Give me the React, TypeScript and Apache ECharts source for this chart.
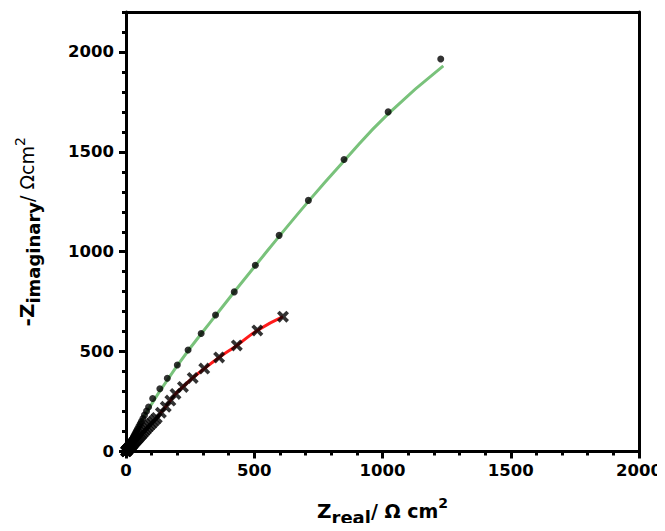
import React, { useEffect, useRef } from "react";
import * as echarts from "echarts";

// Series 1: dots with green fitted line
const greenX = [0.5, 1, 1.5, 2, 2.5, 3, 3.5, 4, 5, 6, 7, 8, 9, 10, 11.5, 13, 15, 17, 19, 21, 23, 25.5, 28, 31, 34, 37.5, 41, 45, 50, 55, 60, 66, 72, 80, 88, 104, 132, 161, 200, 242, 293, 349, 422, 504, 597, 711, 850, 1022, 1227];
const greenY = [1, 2.5, 4, 5, 6, 7, 8.5, 10, 12, 14, 17, 20, 22, 25, 28, 32, 37, 42, 47, 52, 57, 63, 70, 77, 85, 94, 103, 113, 125, 137, 150, 165, 182, 202, 223, 265, 314, 367, 433, 508, 591, 683, 799, 932, 1082, 1257, 1462, 1700, 1965];
const greenFitX = [0, 72, 200, 349, 504, 711, 850, 1022, 1237];
const greenFitY = [0, 180, 430, 680, 930, 1252, 1455, 1690, 1930];

// Series 2: crosses with red fitted line
const redX = [0.5, 1, 1.5, 2, 3, 4, 5, 6, 7.5, 9, 10.5, 12, 14, 16, 18, 20, 22.5, 25, 28, 31, 34.5, 38, 42, 46, 50.5, 55, 60, 65, 71, 77, 83, 90, 97, 104, 112, 120, 136, 155, 173, 193, 222, 260, 305, 363, 432, 512, 612];
const redY = [0.8, 1.5, 2.2, 3, 4.5, 6, 7.5, 9, 11, 13, 15, 17, 20, 23, 26, 29, 32.5, 36, 40, 45, 50, 55, 60.5, 66, 72.5, 79, 86, 93, 101.5, 110, 119, 128, 137.5, 147, 157.5, 168, 194, 224, 255, 288, 323, 368, 415, 471, 531, 606, 675];

const xMin = 0, xMax = 2000, xMajor = 500, xMinor = 100;
const yMin = 0, yMax = 2200, yMajor = 500, yMinor = 100;

const FONT = "'DejaVu Sans', Arial, sans-serif";
const CROSS = "path://M0,2.2 L2.2,0 L5,2.8 L7.8,0 L10,2.2 L7.2,5 L10,7.8 L7.8,10 L5,7.2 L2.2,10 L0,7.8 L2.8,5 Z";

const zip = (xs: number[], ys: number[]) => xs.map((x, i) => [x, ys[i]]);

export default function App() {
  const ref = useRef<HTMLDivElement>(null);
  useEffect(() => {
    if (!ref.current) return;
    const chart = echarts.init(ref.current, null, { renderer: "svg" });
    const labelStyle = {
      color: "#000", fontSize: 16.5, fontWeight: "bold" as const, fontFamily: FONT,
      formatter: (v: number) => String(v),
    };
    const rich = {
      z: { fontSize: 20, fontWeight: "bold", fontFamily: FONT, color: "#000", lineHeight: 34 },
      sub: { fontSize: 18, fontWeight: "bold", fontFamily: FONT, color: "#000", padding: [13, 0, 0, 0] },
      slash: { fontSize: 19, fontWeight: "bold", fontFamily: FONT, color: "#000" },
      slashR: { fontSize: 19, fontFamily: FONT, color: "#000" },
      sup: { fontSize: 14, fontWeight: "bold", fontFamily: FONT, color: "#000", padding: [0, 0, 15, 0] },
      supR: { fontSize: 14, fontFamily: FONT, color: "#000", padding: [0, 0, 15, 0] },
    };
    const lineOn = { show: true, onZero: false, lineStyle: { color: "#000", width: 3 } };
    const bare = { axisTick: { show: false }, axisLabel: { show: false }, splitLine: { show: false } };
    const tickMajor = { show: true, inside: false, length: 7, lineStyle: { color: "#000", width: 3 } };
    const tickMinor = { show: true, inside: false, length: 4, lineStyle: { color: "#000", width: 3 } };
    chart.setOption({
      animation: false,
      backgroundColor: "#fff",
      grid: { left: 126, right: 18, top: 12, bottom: 76, show: false },
      xAxis: [
        {
          type: "value", min: xMin, max: xMax, interval: xMajor, position: "bottom",
          name: "{z|Z}{sub|real}{slash|/ Ω cm}{sup|2}",
          nameLocation: "middle", nameGap: 42,
          nameTextStyle: { rich },
          axisLine: lineOn,
          axisTick: tickMajor,
          axisLabel: { ...labelStyle, margin: 10 },
          splitLine: { show: false },
        },
        {
          type: "value", min: xMin, max: xMax, interval: xMinor, position: "bottom",
          axisLine: { show: false, onZero: false },
          axisTick: tickMinor,
          axisLabel: { show: false },
          splitLine: { show: false },
        },
        { type: "value", min: xMin, max: xMax, position: "top", axisLine: lineOn, ...bare },
      ],
      yAxis: [
        {
          type: "value", min: yMin, max: yMax, interval: yMajor, position: "left",
          name: "{z|-Z}{sub|imaginary}{slashR|/ Ωcm}{supR|2}",
          nameLocation: "middle", nameGap: 82,
          nameTextStyle: { rich },
          axisLine: lineOn,
          axisTick: tickMajor,
          axisLabel: { ...labelStyle, margin: 12, showMaxLabel: false },
          splitLine: { show: false },
        },
        {
          type: "value", min: yMin, max: yMax, interval: yMinor, position: "left",
          axisLine: { show: false, onZero: false },
          axisTick: tickMinor,
          axisLabel: { show: false },
          splitLine: { show: false },
        },
        { type: "value", min: yMin, max: yMax, position: "right", axisLine: lineOn, ...bare },
      ],
      series: [
        {
          type: "line", data: zip(greenFitX, greenFitY), smooth: true, symbol: "none",
          lineStyle: { color: "#79c27b", width: 3 }, z: 2,
        },
        {
          type: "line", data: zip(redX, redY), smooth: true, symbol: "none",
          lineStyle: { color: "#ff1a1a", width: 3 }, z: 2,
        },
        {
          type: "scatter", data: zip(greenX, greenY), symbol: "circle", symbolSize: 7,
          itemStyle: { color: "#000" }, z: 3,
        },
        {
          type: "scatter", data: zip(redX, redY), symbol: CROSS, symbolSize: 12,
          itemStyle: { color: "#000" }, z: 3,
        },
      ],
    });
    return () => chart.dispose();
  }, []);
  return <div ref={ref} style={{ width: 665, height: 531, margin: -8 }} />;
}
